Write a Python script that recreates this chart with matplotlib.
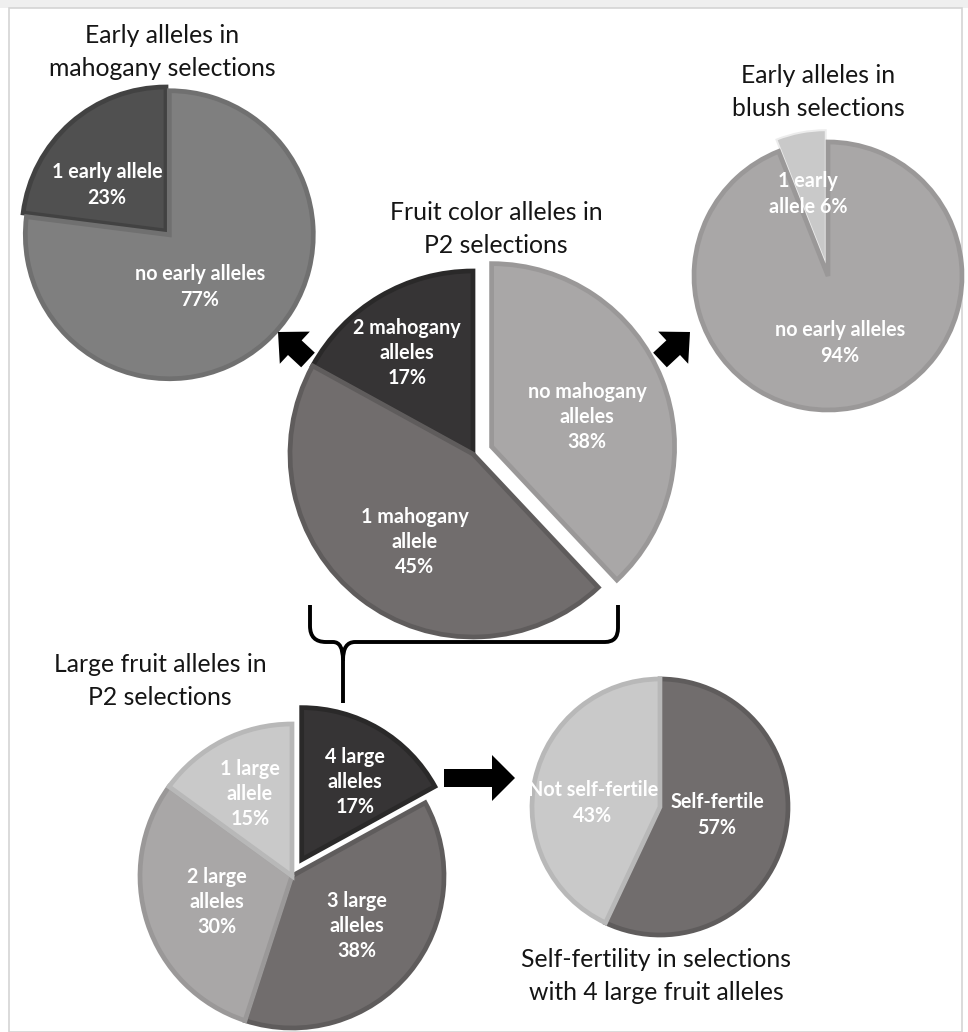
"""Allele composition of P2 selections: linked pie charts."""
import matplotlib
matplotlib.use("Agg")
import matplotlib.pyplot as plt
from matplotlib.patches import FancyArrow, Rectangle, PathPatch
from matplotlib.path import Path

W, H = 968, 1032
plt.rcParams["font.family"] = ["Lato", "DejaVu Sans"]

# --- data (percent of selections) ---
mahog_labels = ["1 early allele\n{}%", "no early alleles\n{}%"]
mahog_vals = [23, 77]

blush_labels = ["1 early\nallele {}%", "no early alleles\n{}%"]
blush_vals = [6, 94]

color_labels = ["2 mahogany\nalleles\n{}%", "1 mahogany\nallele\n{}%", "no mahogany\nalleles\n{}%"]
color_vals = [17, 45, 38]

large_labels = ["4 large\nalleles\n{}%", "3 large\nalleles\n{}%", "2 large\nalleles\n{}%", "1 large\nallele\n{}%"]
large_vals = [17, 38, 30, 15]

selff_labels = ["Self-fertile\n{}%", "Not self-fertile\n{}%"]
selff_vals = [57, 43]

# greys used by the charts: (fill, edge)
DARK = ("#363435", "#2a2929")
MID = ("#716d6d", "#5f5c5c")
LIGHT = ("#a9a7a7", "#9a9898")
PALE = ("#c9c9c9", "#b8b8b8")
SLATE = ("#505050", "#424242")
GREY = ("#7f7f7f", "#707070")

TITLE_KW = dict(fontsize=17.8, color="#151515", ha="center", va="center", linespacing=1.5)
LABEL_KW = dict(fontsize=14.2, color="white", fontweight="bold", ha="center", va="center",
                linespacing=1.33)


def Y(y):
    # pixel rows run downwards, data y runs upwards
    return H - y


def pie(ax, vals, labels, cx, cy, r, styles, label_xy, explode=None, counterclock=True):
    wedges, _ = ax.pie(vals, colors=[s[0] for s in styles], center=(cx, Y(cy)), radius=r,
                       startangle=90, counterclock=counterclock, explode=explode, frame=True,
                       wedgeprops=dict(linewidth=3.4))
    for w, s in zip(wedges, styles):
        w.set_edgecolor(s[1])
    for lab, v, (lx, ly) in zip(labels, vals, label_xy):
        ax.text(lx, Y(ly), lab.format(v), **LABEL_KW)
    return wedges


fig = plt.figure(figsize=(W / 100, H / 100), dpi=100)
ax = fig.add_axes([0, 0, 1, 1])

# page frame
ax.add_patch(Rectangle((0, Y(8)), W, 8, facecolor="#efefef", edgecolor="none"))
ax.add_patch(Rectangle((9, Y(1032)), 953, 1024, facecolor="none", edgecolor="#d4d4d4", lw=1.2))

# early alleles, mahogany
pie(ax, mahog_vals, mahog_labels, 166, 231, 144, [SLATE, GREY],
    [(107, 185), (200, 287)], explode=[0, 5])
ax.text(162, Y(52), "Early alleles in\nmahogany selections", **TITLE_KW)

# early alleles, blush
wb = pie(ax, blush_vals, blush_labels, 828, 276, 134, [PALE, LIGHT],
         [(808, 194), (840, 343)], explode=[12, 0])
wb[0].set_edgecolor("#ececec")
wb[0].set_linewidth(1.4)
ax.text(818, Y(92), "Early alleles in\nblush selections", **TITLE_KW)

# fruit colour
pie(ax, color_vals, color_labels, 473, 454, 183, [DARK, MID, LIGHT],
    [(407, 353), (415, 542), (587, 417)], explode=[0, 0, 20])
ax.text(496, Y(229), "Fruit color alleles in\nP2 selections", **TITLE_KW)

# large fruit
pie(ax, large_vals, large_labels, 292, 876, 152, [DARK, MID, LIGHT, PALE],
    [(355, 782), (357, 926), (217, 902), (250, 794)], explode=[19, 0, 0, 0],
    counterclock=False)
ax.text(160, Y(681), "Large fruit alleles in\nP2 selections", **TITLE_KW)

# self-fertility
pie(ax, selff_vals, selff_labels, 660, 807, 128, [MID, PALE],
    [(717, 815), (593, 803)], counterclock=False)
ax.text(656, Y(976), "Self-fertility in selections\nwith 4 large fruit alleles", **TITLE_KW)

# arrows between charts
arrow_kw = dict(length_includes_head=True, color="black", lw=0)
ax.add_patch(FancyArrow(308, Y(360), -30, 28, width=20, head_width=44, head_length=23, **arrow_kw))
ax.add_patch(FancyArrow(660, Y(360), 30, 28, width=20, head_width=44, head_length=23, **arrow_kw))
ax.add_patch(FancyArrow(444, Y(778), 71, 0, width=18, head_width=46, head_length=23, **arrow_kw))

# brace under the fruit colour chart
pts = [(310, 605), (310, 626), (310, 642), (326, 642), (333, 642), (343, 642), (343, 660),
       (343, 703), (343, 660), (343, 642), (355, 642), (605, 642), (618, 642), (618, 628),
       (618, 605)]
codes = [Path.MOVETO, Path.LINETO, Path.CURVE3, Path.CURVE3, Path.LINETO, Path.CURVE3,
         Path.CURVE3, Path.LINETO, Path.MOVETO, Path.CURVE3, Path.CURVE3, Path.LINETO,
         Path.CURVE3, Path.CURVE3, Path.LINETO]
brace = Path([(x, Y(y)) for x, y in pts], codes)
ax.add_patch(PathPatch(brace, facecolor="none", edgecolor="black", lw=2.8, capstyle="butt"))

ax.set_xlim(0, W)
ax.set_ylim(0, H)
ax.set_aspect("equal")
ax.axis("off")
fig.savefig("out.png", dpi=100, facecolor="white")
